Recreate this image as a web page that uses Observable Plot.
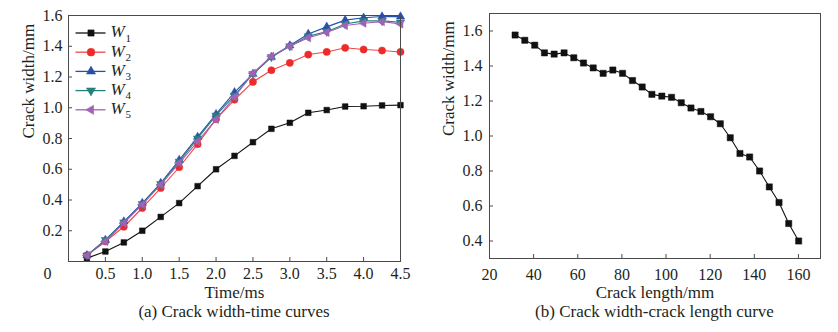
<!DOCTYPE html>
<html>
<head>
<meta charset="utf-8">
<script src="https://cdn.jsdelivr.net/npm/d3@7"></script>
<script src="https://cdn.jsdelivr.net/npm/@observablehq/plot@0.6"></script>
<style>
  html, body { margin: 0; padding: 0; background: #fff; }
  body { width: 838px; height: 332px; overflow: hidden; font-family: "Liberation Serif", "Times New Roman", serif; color: #231f20; }
  #row { display: flex; flex-direction: row; }
  .panel { display: flex; flex-direction: column; }
  .caption { font-size: 17px; line-height: 20px; text-align: center; margin-top: 2px; white-space: nowrap; }
</style>
</head>
<body>
<div id="row">
  <div class="panel" id="pa"></div>
  <div class="panel" id="pb"></div>
</div>
<script>
// ---------- Data: (a) Crack width-time curves ----------
const timeMs = [0.25, 0.5, 0.75, 1.0, 1.25, 1.5, 1.75, 2.0, 2.25, 2.5, 2.75, 3.0, 3.25, 3.5, 3.75, 4.0, 4.25, 4.5];
const w1 = [0.022, 0.065, 0.124, 0.200, 0.290, 0.380, 0.490, 0.600, 0.687, 0.776, 0.863, 0.902, 0.967, 0.985, 1.008, 1.010, 1.015, 1.017];
const w2 = [0.040, 0.130, 0.226, 0.348, 0.478, 0.613, 0.763, 0.926, 1.052, 1.168, 1.244, 1.292, 1.346, 1.363, 1.390, 1.379, 1.372, 1.363];
const w3 = [0.040, 0.140, 0.260, 0.380, 0.510, 0.660, 0.810, 0.958, 1.100, 1.220, 1.330, 1.405, 1.480, 1.526, 1.570, 1.585, 1.593, 1.593];
const w4 = [0.040, 0.140, 0.255, 0.375, 0.505, 0.650, 0.800, 0.950, 1.080, 1.220, 1.330, 1.400, 1.465, 1.495, 1.545, 1.565, 1.565, 1.555];
const w5 = [0.040, 0.130, 0.250, 0.370, 0.500, 0.640, 0.780, 0.925, 1.070, 1.225, 1.335, 1.400, 1.455, 1.490, 1.535, 1.550, 1.560, 1.545];
const seriesNames = ["W1", "W2", "W3", "W4", "W5"];
const seriesValues = [w1, w2, w3, w4, w5];
const timeTicks = [0.5, 1.0, 1.5, 2.0, 2.5, 3.0, 3.5, 4.0, 4.5];
const widthTicksA = [0.2, 0.4, 0.6, 0.8, 1.0, 1.2, 1.4, 1.6];

// ---------- Data: (b) Crack width-crack length curve ----------
const crackLength = [31.6, 36.0, 40.5, 44.9, 49.3, 53.8, 58.2, 62.6, 67.0, 71.5, 75.9, 80.3, 84.8, 89.2, 93.6, 98.1, 102.5, 106.9, 111.3, 115.8, 120.2, 124.6, 129.1, 133.5, 137.9, 142.4, 146.8, 151.2, 155.6, 160.1];
const crackWidth = [1.577, 1.547, 1.519, 1.475, 1.468, 1.475, 1.447, 1.417, 1.389, 1.358, 1.377, 1.358, 1.317, 1.280, 1.238, 1.228, 1.221, 1.190, 1.160, 1.140, 1.110, 1.070, 0.990, 0.900, 0.880, 0.800, 0.709, 0.620, 0.500, 0.400];
const lengthTicks = [20, 40, 60, 80, 100, 120, 140, 160];
const widthTicksB = [0.4, 0.6, 0.8, 1.0, 1.2, 1.4, 1.6];

// ---------- Styles ----------
const sqrt3 = Math.sqrt(3);
const triDown = {draw(ctx, size) { const y = -Math.sqrt(size / (sqrt3 * 3)); ctx.moveTo(0, -y * 2); ctx.lineTo(-sqrt3 * y, y); ctx.lineTo(sqrt3 * y, y); ctx.closePath(); }};
const triLeft = {draw(ctx, size) { const y = -Math.sqrt(size / (sqrt3 * 3)); ctx.moveTo(y * 2, 0); ctx.lineTo(-y, -sqrt3 * y); ctx.lineTo(-y, sqrt3 * y); ctx.closePath(); }};
const seriesStyle = [
  {color: "#111111", line: "#111111", symbol: "square", r: 3.2},
  {color: "#ee2a2a", line: "#f04848", symbol: "circle", r: 3.6},
  {color: "#2850a8", line: "#2850a8", symbol: "triangle", r: 3.1},
  {color: "#23807c", line: "#23807c", symbol: triDown, r: 3.1},
  {color: "#a062b4", line: "#a062b4", symbol: triLeft, r: 3.1}
];
const FONT = '"Liberation Serif", "Times New Roman", serif';
const TXT = "#231f20";
const FRAME = "#4a4a4a";

// ---------- Panel (a) ----------
{
  const W = 420, H = 300, ml = 68, mr = 20, mt = 15, mb = 39;
  const fw = W - ml - mr, fh = H - mt - mb;
  const rows = [];
  seriesNames.forEach((name, i) => timeMs.forEach((t, j) => rows.push({series: name, idx: i, t, w: seriesValues[i][j]})));
  const marks = [
    Plot.axisX(timeTicks, {tickSize: 0, tickPadding: 6.5, tickFormat: ".1f", fill: TXT, fontSize: 16}),
    Plot.axisY(widthTicksA, {tickSize: 0, tickPadding: 6, tickFormat: ".1f", fill: TXT, fontSize: 16}),
    Plot.ruleX(timeTicks, {x: d => d, insetTop: fh - 4, stroke: FRAME}),
    Plot.ruleY(widthTicksA, {y: d => d, insetRight: fw - 4, stroke: FRAME}),
    Plot.text(["0"], {text: d => d, frameAnchor: "bottom-left", lineAnchor: "middle", dx: -25, dy: 12, fill: TXT, fontSize: 16}),
    Plot.text(["Time/ms"], {text: d => d, frameAnchor: "bottom", lineAnchor: "middle", dy: 31, fill: TXT, fontSize: 17}),
    Plot.text(["Crack width/mm"], {text: d => d, frameAnchor: "left", lineAnchor: "middle", dx: -40, rotate: -90, fill: TXT, fontSize: 17})
  ];
  seriesNames.forEach((name, i) => {
    const st = seriesStyle[i];
    const data = rows.filter(d => d.idx === i);
    marks.push(Plot.line(data, {x: "t", y: "w", stroke: st.line, strokeWidth: 1.1}));
    marks.push(Plot.dot(data, {x: "t", y: "w", symbol: st.symbol, r: st.r, fill: st.color, stroke: st.color, strokeWidth: 0.5}));
    // legend row
    const dy = 17.5 + i * 19.2;
    marks.push(Plot.dot([name], {frameAnchor: "top-left", dx: 22, dy, symbol: {draw(ctx) { ctx.moveTo(-15, 0); ctx.lineTo(15, 0); }}, r: 4, fill: "none", stroke: st.line, strokeWidth: 1.3}));
    marks.push(Plot.dot([name], {frameAnchor: "top-left", dx: 22.5, dy, symbol: st.symbol, r: st.r + 0.3, fill: st.color, stroke: st.color, strokeWidth: 0.5}));
    marks.push(Plot.text([name], {text: d => d.slice(0, 1), frameAnchor: "top-left", lineAnchor: "middle", dx: 42, dy: dy - 1, textAnchor: "start", fontStyle: "italic", fill: TXT, fontSize: 17}));
    marks.push(Plot.text([name], {text: d => d.slice(1), frameAnchor: "top-left", lineAnchor: "middle", dx: 57, dy: dy + 5, textAnchor: "start", fill: TXT, fontSize: 11}));
  });
  marks.push(Plot.frame({stroke: FRAME, strokeWidth: 1}));
  const chart = Plot.plot({
    width: W, height: H, marginLeft: ml, marginRight: mr, marginTop: mt, marginBottom: mb,
    style: {fontFamily: FONT, fontSize: "16px", background: "white", color: TXT, overflow: "visible"},
    x: {domain: [0, 4.5], label: null, axis: null},
    y: {domain: [0, 1.6], label: null, axis: null},
    marks
  });
  const pa = document.getElementById("pa");
  pa.style.width = W + "px";
  pa.appendChild(chart);
  const cap = document.createElement("div");
  cap.className = "caption";
  cap.style.paddingLeft = ml + "px"; cap.style.paddingRight = mr + "px";
  cap.textContent = "(a) Crack width-time curves";
  pa.appendChild(cap);
}

// ---------- Panel (b) ----------
{
  const W = 418, H = 300, ml = 69, mr = 18, mt = 13, mb = 42;
  const fw = W - ml - mr, fh = H - mt - mb;
  const pts = crackLength.map((L, i) => ({L, w: crackWidth[i]}));
  const chart = Plot.plot({
    width: W, height: H, marginLeft: ml, marginRight: mr, marginTop: mt, marginBottom: mb,
    style: {fontFamily: FONT, fontSize: "16px", background: "white", color: TXT, overflow: "visible"},
    x: {domain: [20, 170], label: null, axis: null},
    y: {domain: [0.3, 1.7], label: null, axis: null},
    marks: [
      Plot.axisX(lengthTicks, {tickSize: 0, tickPadding: 10.5, fill: TXT, fontSize: 16}),
      Plot.axisY(widthTicksB, {tickSize: 0, tickPadding: 7, tickFormat: ".1f", fill: TXT, fontSize: 16}),
      Plot.ruleX(lengthTicks, {x: d => d, insetTop: fh - 4, stroke: FRAME}),
      Plot.ruleY(widthTicksB, {y: d => d, insetRight: fw - 4, stroke: FRAME}),
      Plot.text(["Crack length/mm"], {text: d => d, frameAnchor: "bottom", lineAnchor: "middle", dy: 34, fill: TXT, fontSize: 17}),
      Plot.text(["Crack width/mm"], {text: d => d, frameAnchor: "left", lineAnchor: "middle", dx: -41, rotate: -90, fill: TXT, fontSize: 17}),
      Plot.line(pts, {x: "L", y: "w", stroke: "#111", strokeWidth: 1.1}),
      Plot.dot(pts, {x: "L", y: "w", symbol: "square", r: 3.5, fill: "#111", stroke: "#111", strokeWidth: 0.5}),
      Plot.frame({stroke: FRAME, strokeWidth: 1})
    ]
  });
  const pb = document.getElementById("pb");
  pb.style.width = W + "px";
  pb.appendChild(chart);
  const cap = document.createElement("div");
  cap.className = "caption";
  cap.style.paddingLeft = ml + "px"; cap.style.paddingRight = mr + "px";
  cap.textContent = "(b) Crack width-crack length curve";
  pb.appendChild(cap);
}
</script>
</body>
</html>
